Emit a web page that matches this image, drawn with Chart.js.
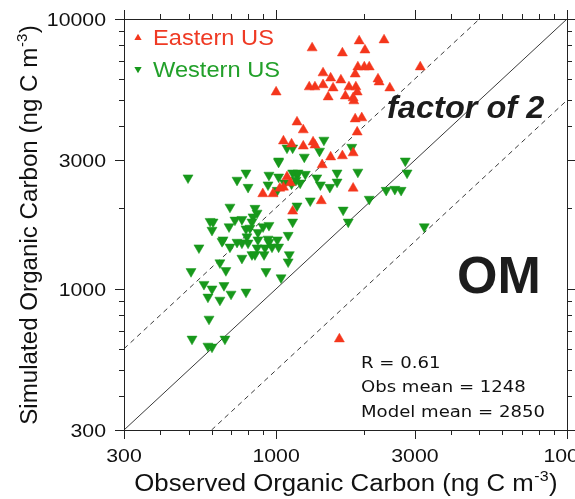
<!DOCTYPE html>
<html>
<head>
<meta charset="utf-8">
<script src="https://cdn.jsdelivr.net/npm/chart.js@4/dist/chart.umd.min.js"></script>
<style>
  html, body { margin: 0; padding: 0; background: #fff; }
</style>
</head>
<body>
<canvas id="c" width="575" height="499"></canvas>
<script>
// observed vs simulated organic carbon, ng C m-3
const eastObs = [1000, 1330, 1930, 2350, 1690, 2020, 1450, 1540, 1670, 1870, 1910, 2010, 2090,
  2240, 2260, 1300, 1360, 1450, 1570, 1510, 1730, 1780, 1880, 1900, 1840, 1850, 2460, 3130,
  1870, 1970, 1900, 1180, 1240, 1060, 1130, 1240, 1340, 1360, 1840, 1690, 1540, 1440, 1840,
  1430, 1140, 1090, 1060, 1120, 1030, 900, 976, 1650];
const eastSim = [5360, 7810, 8290, 8360, 7480, 7670, 6310, 6040, 5940, 6250, 6640, 6640, 6640,
  5990, 5840, 5600, 5600, 5700, 5550, 5140, 5180, 5600, 5600, 5360, 5100, 4970, 5550, 6640,
  4260, 4300, 3810, 4150, 3880, 3530, 3440, 3380, 3500, 3410, 3190, 3110, 3080, 2880, 2360,
  2120, 1940, 2600, 2380, 2470, 2360, 2250, 2250, 652];

const westObs = [498, 734, 788, 801, 945, 1020, 1090, 1020, 1180, 938, 1010, 1130, 694, 846,
  860, 833, 593, 607, 602, 689, 722, 763, 788, 826, 866, 902, 945, 813, 657, 734, 794, 866,
  938, 1010, 543, 652, 694, 801, 860, 916, 945, 968, 1020, 763, 826, 846, 909, 1110, 1100,
  641, 672, 510, 923, 1040, 565, 602, 662, 583, 641, 700, 788, 588, 514, 583, 602, 667,
  1460, 1820, 1250, 1140, 1410, 1910, 1620, 1620, 1530, 1140, 1190, 1260, 1170, 1210, 1380,
  1420, 1070, 1310, 1180, 1140, 1100, 1700, 1770, 2090, 2390, 2560, 2690, 2780, 2820, 3230,
  1020, 763];
const westSim = [2580, 2530, 2690, 2380, 2640, 2980, 3330, 2600, 2640, 2430, 2320, 2450, 2010,
  1990, 1910, 1850, 1780, 1770, 1650, 1700, 1800, 1810, 1670, 1770, 1620, 1700, 1720, 1680,
  1520, 1490, 1560, 1520, 1530, 1520, 1420, 1500, 1430, 1480, 1420, 1420, 1490, 1430, 1430,
  1300, 1340, 1340, 1340, 1340, 1260, 1250, 1170, 1160, 1160, 1100, 1040, 1000, 1030, 933,
  909, 957, 974, 773, 652, 614, 609, 652,
  3560, 3350, 3080, 3330, 3240, 2710, 2690, 2490, 2380, 2690, 2690, 2660, 2530, 2470, 2580,
  2430, 2470, 2120, 2030, 1770, 1580, 1960, 1770, 2150, 2320, 2340, 2320, 2980, 2690, 1700,
  2950, 1480];

// 1:1 line and factor-of-2 lines
const oneToOne = [{ x: 300, y: 300 }, { x: 10000, y: 10000 }];
const twiceLine = [{ x: 300, y: 600 }, { x: 5000, y: 10000 }];
const halfLine = [{ x: 600, y: 300 }, { x: 10000, y: 5000 }];

const tickValues = [300, 400, 500, 600, 700, 800, 900, 1000, 2000, 3000, 4000, 5000, 6000,
  7000, 8000, 9000, 10000];
const tickLabels = [300, 1000, 3000, 10000];
const statLines = ['R = 0.61', 'Obs mean = 1248', 'Model mean = 2850'];

const RED = '#f4361c';
const GREEN = '#17981b';
const SANS = '"Liberation Sans", Arial, sans-serif';

function stretched(ctx, txt, x, y, font, sx, align) {
  ctx.save();
  ctx.font = font;
  ctx.translate(x, y);
  ctx.scale(sx, 1);
  ctx.textAlign = align || 'left';
  ctx.textBaseline = 'alphabetic';
  ctx.fillText(txt, 0, 0);
  ctx.restore();
}

// title with superscript, centred on the current origin
function supTitle(ctx, base, sup, tail, size) {
  ctx.font = size + 'px ' + SANS;
  const w1 = ctx.measureText(base).width;
  const w3 = ctx.measureText(tail).width;
  ctx.font = (size * 0.62) + 'px ' + SANS;
  const w2 = ctx.measureText(sup).width;
  let x = -(w1 + w2 + w3 + 1) / 2;
  ctx.textAlign = 'left';
  ctx.textBaseline = 'alphabetic';
  ctx.font = size + 'px ' + SANS;
  ctx.fillText(base, x, 0);
  x += w1 + 0.5;
  ctx.font = (size * 0.62) + 'px ' + SANS;
  ctx.fillText(sup, x, -size * 0.45);
  x += w2 + 0.5;
  ctx.font = size + 'px ' + SANS;
  ctx.fillText(tail, x, 0);
}

function tri(ctx, x, y, r, down, color) {
  const d = down ? -1 : 1;
  ctx.beginPath();
  ctx.moveTo(x, y - d * r);
  ctx.lineTo(x + r * 0.866, y + d * r / 2);
  ctx.lineTo(x - r * 0.866, y + d * r / 2);
  ctx.closePath();
  ctx.fillStyle = color;
  ctx.fill();
}

const decor = {
  id: 'decor',
  afterDraw(chart) {
    const ctx = chart.ctx;
    const xs = chart.scales.x, ys = chart.scales.y;
    const a = chart.chartArea;
    ctx.save();

    // frame and outward ticks on all four sides
    ctx.strokeStyle = '#222';
    ctx.lineWidth = 1;
    ctx.strokeRect(a.left + 0.5, a.top + 0.5, a.right - a.left, a.bottom - a.top);
    ctx.beginPath();
    tickValues.forEach(v => {
      const len = tickLabels.includes(v) ? 9 : 5;
      const px = Math.round(xs.getPixelForValue(v)) + 0.5;
      ctx.moveTo(px, a.bottom); ctx.lineTo(px, a.bottom + len);
      ctx.moveTo(px, a.top); ctx.lineTo(px, a.top - len);
      const py = Math.round(ys.getPixelForValue(v)) + 0.5;
      ctx.moveTo(a.left, py); ctx.lineTo(a.left - len, py);
      ctx.moveTo(a.right, py); ctx.lineTo(a.right + len, py);
    });
    ctx.stroke();

    // tick labels
    ctx.fillStyle = '#111';
    const tf = '18.5px ' + SANS;
    tickLabels.forEach((v, i) => {
      let px = xs.getPixelForValue(v);
      if (i === tickLabels.length - 1) px += 6;
      stretched(ctx, String(v), px, 462, tf, 1.15, 'center');
      stretched(ctx, String(v), 106, ys.getPixelForValue(v) + 7, tf, 1.15, 'right');
    });

    // axis titles
    ctx.save();
    ctx.translate(346, 491);
    ctx.scale(1.12, 1);
    supTitle(ctx, 'Observed Organic Carbon (ng C m', '-3', ')', 23);
    ctx.restore();
    ctx.save();
    ctx.translate(37, 225);
    ctx.rotate(-Math.PI / 2);
    ctx.scale(1.05, 1);
    supTitle(ctx, 'Simulated Organic Carbon (ng C m', '-3', ')', 23);
    ctx.restore();

    // legend
    tri(ctx, 138, 38, 4.2, false, RED);
    tri(ctx, 138, 69, 4.2, true, GREEN);
    ctx.fillStyle = '#ef3a24';
    stretched(ctx, 'Eastern US', 153, 45, '21.5px ' + SANS, 1.1);
    ctx.fillStyle = '#22a02a';
    stretched(ctx, 'Western US', 153, 77, '21.5px ' + SANS, 1.1);

    // annotations
    ctx.fillStyle = '#1c1c1c';
    stretched(ctx, 'factor of 2', 387, 118, 'italic bold 31px ' + SANS, 1.05);
    stretched(ctx, 'OM', 457, 293, 'bold 52px ' + SANS, 1);
    ctx.fillStyle = '#111';
    statLines.forEach((s, i) => {
      stretched(ctx, s, 361, 368 + i * 24.3, '16px "DejaVu Sans", sans-serif', 1.13);
    });
    ctx.restore();
  }
};

const refLine = {
  showLine: true, pointRadius: 0, borderColor: '#3a3a3a', borderWidth: 1, fill: false
};

new Chart(document.getElementById('c'), {
  type: 'scatter',
  data: {
    datasets: [
      {
        label: 'Eastern US',
        data: eastObs.map((x, i) => ({ x: x, y: eastSim[i] })),
        pointStyle: 'triangle', pointRadius: 5.8,
        backgroundColor: RED, borderColor: RED, borderWidth: 0.5
      },
      {
        label: 'Western US',
        data: westObs.map((x, i) => ({ x: x, y: westSim[i] })),
        pointStyle: 'triangle', rotation: 180, pointRadius: 5.8,
        backgroundColor: GREEN, borderColor: GREEN, borderWidth: 0.5
      },
      Object.assign({ label: '1:1', data: oneToOne }, refLine),
      Object.assign({ label: 'x2', data: twiceLine, borderDash: [5, 4] }, refLine),
      Object.assign({ label: 'x0.5', data: halfLine, borderDash: [5, 4] }, refLine)
    ]
  },
  options: {
    responsive: false,
    animation: false,
    devicePixelRatio: 1,
    layout: { padding: { top: 19, right: 8, left: 0, bottom: 0 } },
    plugins: { legend: { display: false }, tooltip: { enabled: false } },
    scales: {
      x: {
        type: 'logarithmic', min: 300, max: 10000,
        ticks: { display: false }, grid: { display: false }, border: { display: false },
        afterFit: s => { s.height = 69; }
      },
      y: {
        type: 'logarithmic', min: 300, max: 10000,
        ticks: { display: false }, grid: { display: false }, border: { display: false },
        afterFit: s => { s.width = 124; }
      }
    }
  },
  plugins: [decor]
});
</script>
</body>
</html>
